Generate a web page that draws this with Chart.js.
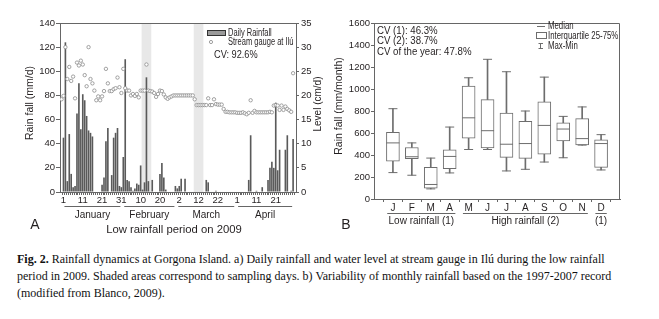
<!DOCTYPE html>
<html>
<head>
<meta charset="utf-8">
<script src="https://cdn.jsdelivr.net/npm/chart.js@4.4.1/dist/chart.umd.min.js"></script>
<style>
  html, body { margin: 0; padding: 0; background: #fff; }
  body { width: 659px; height: 319px; position: relative; overflow: hidden; }
  #wrapA { position: absolute; left: 0; top: 0; width: 330px; height: 240px; }
  #wrapB { position: absolute; left: 320px; top: 0; width: 339px; height: 240px; }
  #caption { position: absolute; left: 17px; top: 251px; font-family: 'Liberation Serif', 'Times New Roman', serif;
             font-size: 12px; line-height: 17px; color: #111; white-space: nowrap; }
</style>
</head>
<body>
<div id="wrapA"><canvas id="chartA" width="330" height="240"></canvas></div>
<div id="wrapB"><canvas id="chartB" width="339" height="240"></canvas></div>
<div id="caption"><b>Fig. 2.</b> Rainfall dynamics at Gorgona Island. a) Daily rainfall and water level at stream gauge in Ilú during the low rainfall<br>period in 2009. Shaded areas correspond to sampling days. b) Variability of monthly rainfall based on the 1997-2007 record<br>(modified from Blanco, 2009).</div>
<script>
// ---- panel A : daily rainfall Jan 1 - Apr 30 2009 (mm/d), day 1..120
const rainfall = [
  45, 124, 9, 48, 15, 4, 5, 65, 90, 52,
  81, 76, 63, 51, 49, 46, 0, 0, 0, 0,
  6, 12, 42, 53, 0, 14, 45, 49, 53, 5,
  4, 29, 110, 10, 9, 4, 1, 3, 7, 6,
  22, 2, 8, 95, 9, 0, 10, 0, 0, 0,
  15, 24, 12, 2, 0, 0, 0, 0, 5, 3,
  5, 11, 0, 11, 0, 0, 0, 0, 0, 0,
  0, 0, 0, 0, 10, 8, 0, 0, 0, 1,
  0, 0, 0, 0, 0, 0, 0, 0, 0, 0,
  0, 0, 0, 0, 0, 0, 10, 47, 0, 0,
  1, 0, 0, 4, 0, 0, 10, 20, 25, 20,
  74, 18, 35, 0, 0, 35, 47, 0, 1, 44
];
// stream gauge level (cm/d), day 0..120
const level = [
  19.2,
  19.9, 30, 23.4, 25.9, 23.0, 23.9, 19.4, 26.8, 26.2, 27.2,
  26.4, 24.2, 21.9, 30, 23.4, 22.5, 21, 19, 19.8, 19,
  19.8, 20.9, 25.5, 22.5, 20.9, 20.9, 21.3, 21.5, 23.7, 21.7,
  20.5, 25.5, 21.5, 21, 21, 20, 20.3, 19.9, 20.3, 19.6,
  21, 21, 21, 26.4, 21, 20.9, 20.8, 20.5, 19.7, 20.3,
  21, 20.9, 20.2, 19.6, 19.3, 19.6, 19.8, 20, 20, 20,
  20, 20, 20, 20, 20, 20, 20, 20, 19.2, 18,
  18, 18, 18, 18, 18, 19.4, 18, 18, 19.2, 18.2,
  18.1, 18.1, 18.1, 17.2, 16.6, 16.6, 16.5, 16.5, 16.5, 16.5,
  16.4, 16.4, 16.4, 16.5, 16.3, 16.1, 16.4, 19, 16.4, 16.8,
  16.5, 16.5, 16.5, 16.5, 16.5, 16.5, 16.5, 16.6, 16.5, 17.9,
  18, 17.9, 17, 17.9, 17, 17.7, 17.2, 16.9, 16.6, 24.6
];
const dayTicks = [1, 11, 21, 31, 41, 51, 61, 71, 81, 91, 101, 111];
const dayTickLabels = ['1', '11', '21', '31', '10', '20', '2', '12', '22', '1', '11', '21'];
const months = ['January', 'February', 'March', 'April'];
const monthFirstDay = [1, 32, 60, 91];
const monthLastDay = [31, 59, 90, 120];
const samplingFirstDay = [42, 69];
const samplingLastDay = [46, 73];

// ---- panel B : monthly rainfall 1997-2007 (mm/month)
const monthLetters = ['J', 'F', 'M', 'A', 'M', 'J', 'J', 'A', 'S', 'O', 'N', 'D'];
const maxV   = [821, 510, 372, 654, 1102, 1270, 1157, 800, 1108, 751, 837, 585];
const q3V    = [605, 468, 288, 447, 1026, 904, 782, 705, 883, 693, 730, 537];
const medianV= [510, 384, 132, 387, 738, 621, 498, 504, 669, 636, 549, 504];
const q1V    = [345, 366, 98, 276, 552, 465, 378, 369, 408, 528, 492, 288];
const minV   = [240, 216, 92, 237, 450, 450, 255, 270, 336, 375, 490, 264];
const groupLabels = ['Low rainfall (1)', 'High rainfall (2)', '(1)'];
const groupFirst = [1, 5, 12];
const groupLast = [4, 11, 12];

const FAMILY = "'Liberation Sans', Arial, sans-serif";
const INK = '#231f20';
const AXIS = '#666';
Chart.defaults.font.family = FAMILY;
Chart.defaults.color = INK;
Chart.defaults.animation = false;
Chart.defaults.plugins.legend.display = false;
Chart.defaults.plugins.tooltip.enabled = false;

// text helper; sx squeezes the text sideways (the original uses a condensed face)
function txt(ctx, s, x, y, size, align, sx, rot) {
  ctx.save();
  ctx.translate(x, y);
  if (rot) ctx.rotate(rot);
  ctx.scale(sx || 1, 1);
  ctx.font = size + 'px ' + FAMILY;
  ctx.fillStyle = INK;
  ctx.textAlign = align || 'left';
  ctx.textBaseline = 'middle';
  ctx.fillText(s, 0, 0);
  ctx.restore();
}

// shading + extra labels for panel A
const decorA = {
  id: 'decorA',
  beforeDatasetsDraw(chart) {
    const { ctx, chartArea: a, scales: { x } } = chart;
    ctx.save();
    ctx.fillStyle = '#e8e8e8';
    samplingFirstDay.forEach((d, i) => {
      const x0 = x.getPixelForValue(d - 0.5), x1 = x.getPixelForValue(samplingLastDay[i] + 0.5);
      ctx.fillRect(x0, a.top, x1 - x0, a.bottom - a.top);
    });
    ctx.restore();
  },
  afterDraw(chart) {
    const { ctx, chartArea: a, scales: { x } } = chart;
    ctx.save();
    ctx.strokeStyle = AXIS;
    ctx.lineWidth = 1;
    ctx.beginPath();
    ctx.moveTo(a.left, Math.round(a.top) + 0.5);
    ctx.lineTo(a.right, Math.round(a.top) + 0.5);
    ctx.stroke();

    // legend
    ctx.fillStyle = '#9a9a9a';
    ctx.fillRect(207.5, 30.5, 18, 5);
    ctx.strokeStyle = '#333';
    ctx.strokeRect(207.5, 30.5, 18, 5);
    ctx.strokeStyle = '#888';
    ctx.lineWidth = 0.8;
    ctx.beginPath();
    ctx.arc(211, 42, 1.6, 0, Math.PI * 2);
    ctx.stroke();
    txt(ctx, 'Daily Rainfall', 228, 33, 10, 'left', 0.75);
    txt(ctx, 'Stream gauge at Ilú', 228, 42, 10, 'left', 0.75);
    txt(ctx, 'CV: 92.6%', 214, 55, 10, 'left', 0.92);

    // months
    ctx.strokeStyle = AXIS;
    ctx.lineWidth = 1;
    months.forEach((m, i) => {
      const x0 = x.getPixelForValue(monthFirstDay[i] + 0.5);
      const x1 = x.getPixelForValue(monthLastDay[i] - 0.5);
      ctx.beginPath();
      ctx.moveTo(x0, 206.5);
      ctx.lineTo(x1, 206.5);
      ctx.stroke();
      txt(ctx, m, (x0 + x1) / 2, 215, 10, 'center');
    });
    txt(ctx, 'Low rainfall period on 2009', 174, 230, 11.3, 'center');
    txt(ctx, 'A', 35, 225, 14, 'center');
    txt(ctx, 'Rain fall (mm/d)', 30, 103, 10.5, 'center', 1, -Math.PI / 2);
    txt(ctx, 'Level (cm/d)', 318, 104, 10, 'center', 1, -Math.PI / 2);
    ctx.restore();
  }
};

new Chart(document.getElementById('chartA'), {
  type: 'bar',
  data: {
    datasets: [
      {
        type: 'scatter',
        data: level.map((v, i) => ({ x: i, y: v })),
        yAxisID: 'y2',
        pointRadius: 1.7,
        pointBorderWidth: 0.8,
        pointBorderColor: '#8c8c8c',
        pointBackgroundColor: '#fff',
        order: 1
      },
      {
        type: 'bar',
        data: rainfall.map((v, i) => ({ x: i + 1, y: v })),
        yAxisID: 'y',
        backgroundColor: '#5a5a5a',
        barPercentage: 0.85,
        categoryPercentage: 1,
        order: 2
      }
    ]
  },
  options: {
    responsive: false,
    devicePixelRatio: 1,
    layout: { padding: { top: 23 } },
    scales: {
      x: {
        type: 'linear', min: -0.8, max: 121.5, offset: false,
        afterBuildTicks: s => { s.ticks = rainfall.map((v, i) => ({ value: i + 1 })); },
        afterFit: s => { s.height = 48; },
        ticks: {
          autoSkip: false, maxRotation: 0, minRotation: 0, padding: 0,
          font: { size: 9.5 },
          callback: v => { const k = dayTicks.indexOf(v); return k >= 0 ? dayTickLabels[k] : ''; }
        },
        grid: { drawOnChartArea: false, tickLength: 3, color: AXIS },
        border: { color: AXIS }
      },
      y: {
        position: 'left', min: 0, max: 140,
        afterFit: s => { s.width = 60; },
        ticks: { stepSize: 20, padding: 1, font: { size: 9.5 }, callback: v => String(v) },
        grid: { drawOnChartArea: false, tickLength: 4, color: AXIS },
        border: { color: AXIS }
      },
      y2: {
        position: 'right', min: 0, max: 35,
        afterFit: s => { s.width = 34; },
        ticks: { stepSize: 5, padding: 2, font: { size: 9.5 }, callback: v => String(v) },
        grid: { drawOnChartArea: false, tickLength: 3, color: AXIS },
        border: { color: AXIS }
      }
    }
  },
  plugins: [decorA]
});

// ---- panel B
const BOX = '#6d6d6d';
const decorB = {
  id: 'decorB',
  afterDraw(chart) {
    const { ctx, chartArea: a, scales: { x } } = chart;
    ctx.save();
    ctx.strokeStyle = AXIS;
    ctx.lineWidth = 1;
    ctx.beginPath();
    ctx.moveTo(a.left, Math.round(a.top) + 0.5);
    ctx.lineTo(Math.round(a.right) - 0.5, Math.round(a.top) + 0.5);
    ctx.lineTo(Math.round(a.right) - 0.5, a.bottom);
    ctx.stroke();

    txt(ctx, 'CV (1): 46.3%', 57, 31, 10.5, 'left', 0.92);
    txt(ctx, 'CV (2): 38.7%', 57, 41.5, 10.5, 'left', 0.92);
    txt(ctx, 'CV of the year: 47.8%', 57, 52, 10.5, 'left', 0.92);

    // legend
    ctx.strokeStyle = BOX;
    ctx.beginPath();
    ctx.moveTo(217, 26.5); ctx.lineTo(225, 26.5);
    ctx.moveTo(220.5, 43); ctx.lineTo(220.5, 49);
    ctx.moveTo(218.5, 43.5); ctx.lineTo(223, 43.5);
    ctx.moveTo(218.5, 48.5); ctx.lineTo(223, 48.5);
    ctx.stroke();
    ctx.strokeRect(216.5, 32.5, 10, 6);
    txt(ctx, 'Median', 228, 26.5, 10, 'left', 0.78);
    txt(ctx, 'Interquartile 25-75%', 228, 36, 10, 'left', 0.78);
    txt(ctx, 'Max-Min', 228, 46.5, 10, 'left', 0.78);

    // groups
    ctx.strokeStyle = AXIS;
    groupLabels.forEach((g, i) => {
      const x0 = x.getPixelForValue(groupFirst[i] - 0.3);
      const x1 = x.getPixelForValue(groupLast[i] + 0.3);
      ctx.beginPath();
      ctx.moveTo(x0, 213.5); ctx.lineTo(x1, 213.5);
      ctx.stroke();
      txt(ctx, g, (x0 + x1) / 2, 221, 10, 'center');
    });
    txt(ctx, 'B', 26, 225, 14, 'center');
    txt(ctx, 'Rain fall (mm/month)', 19, 106, 10.5, 'center', 1, -Math.PI / 2);
    ctx.restore();
  }
};

const monthPos = monthLetters.map((m, i) => i + 1);
new Chart(document.getElementById('chartB'), {
  type: 'bar',
  data: {
    datasets: [
      {
        type: 'scatter',
        data: monthPos.map((p, i) => ({ x: p, y: medianV[i] })),
        pointStyle: 'line', pointRadius: 6.5, pointBorderWidth: 1, pointBorderColor: BOX,
        order: 0
      },
      {
        type: 'scatter',
        data: monthPos.map((p, i) => ({ x: p, y: maxV[i] })).concat(monthPos.map((p, i) => ({ x: p, y: minV[i] }))),
        pointStyle: 'line', pointRadius: 4.5, pointBorderWidth: 1, pointBorderColor: BOX,
        order: 0
      },
      {
        type: 'bar',
        data: monthPos.map((p, i) => ({ x: p, y: [q1V[i], q3V[i]] })),
        backgroundColor: '#fff', borderColor: BOX, borderWidth: 1, borderSkipped: false,
        barThickness: 13, grouped: false, order: 1
      },
      {
        type: 'bar',
        data: monthPos.map((p, i) => ({ x: p, y: [minV[i], q1V[i]] })),
        backgroundColor: BOX, barThickness: 1, grouped: false, order: 2
      },
      {
        type: 'bar',
        data: monthPos.map((p, i) => ({ x: p, y: [q3V[i], maxV[i]] })),
        backgroundColor: BOX, barThickness: 1, grouped: false, order: 2
      }
    ]
  },
  options: {
    responsive: false,
    devicePixelRatio: 1,
    layout: { padding: { top: 23, right: 39 } },
    scales: {
      x: {
        type: 'linear', min: 0, max: 13, offset: false,
        afterBuildTicks: s => { s.ticks = monthPos.map(p => ({ value: p })); },
        afterFit: s => { s.height = 41; },
        ticks: {
          autoSkip: false, maxRotation: 0, minRotation: 0, padding: 0,
          font: { size: 10 },
          callback: v => monthLetters[v - 1]
        },
        grid: { drawOnChartArea: false, tickLength: 3, color: AXIS },
        border: { color: AXIS }
      },
      y: {
        min: 0, max: 1600,
        afterFit: s => { s.width = 54; },
        ticks: { stepSize: 200, padding: 1, font: { size: 9.5 }, callback: v => String(v) },
        grid: { drawOnChartArea: false, tickLength: 3, color: AXIS },
        border: { color: AXIS }
      }
    }
  },
  plugins: [decorB]
});
</script>
</body>
</html>
